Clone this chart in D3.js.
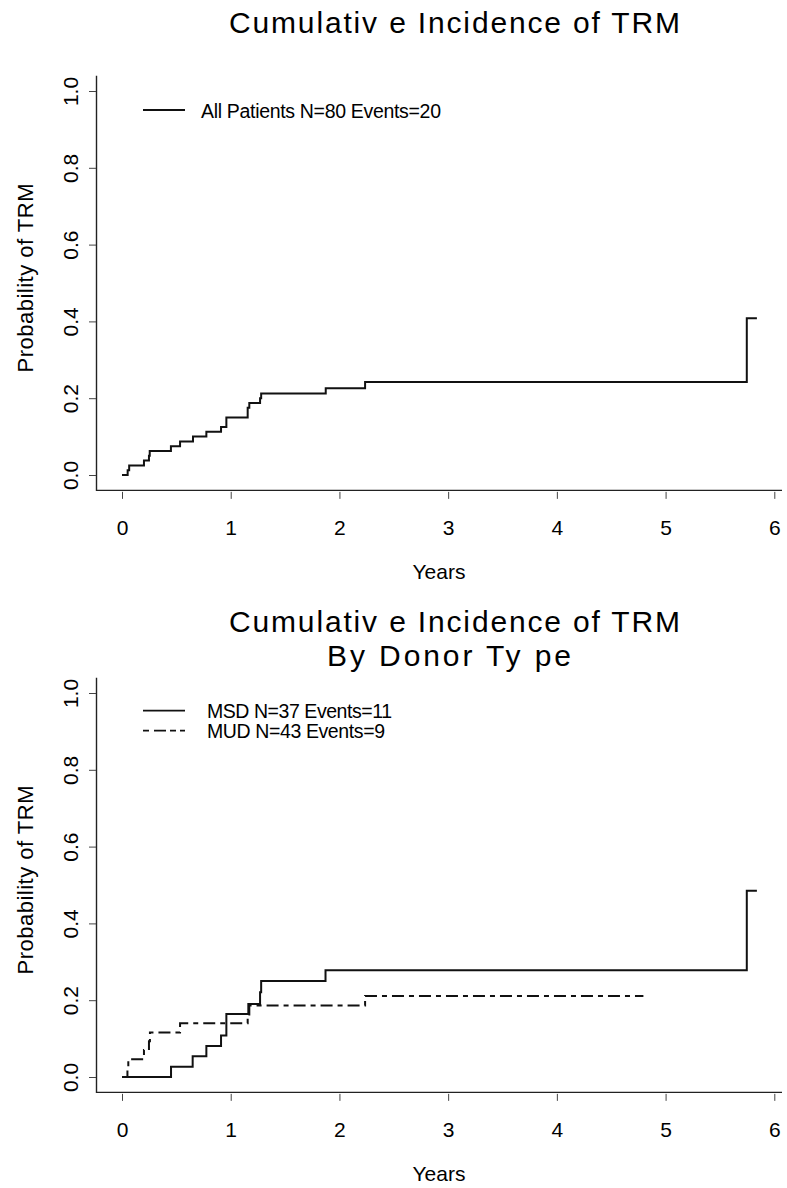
<!DOCTYPE html>
<html><head><meta charset="utf-8">
<script src="https://cdn.jsdelivr.net/npm/d3@7"></script>
<style>
body{margin:0;background:#fff;}
svg{display:block;font-family:"Liberation Sans",Arial,sans-serif;}
</style></head><body>
<svg id="c" width="787" height="1188"></svg>
<script>
// ---- data ----
const xTicks = [0, 1, 2, 3, 4, 5, 6];
const yTicks = [0, 0.2, 0.4, 0.6, 0.8, 1.0];
const xLabel = "Years";
const yLabel = "Probability of TRM";
const title1 = ["Cumulativ e Incidence of TRM"];
const title2 = ["Cumulativ e Incidence of TRM", "By Donor Ty pe"];

const allTimes = [0, 0.052, 0.066, 0.202, 0.248, 0.255, 0.45, 0.534, 0.653, 0.776, 0.911, 0.96, 1.156, 1.171, 1.27, 1.28, 1.874, 2.236, 5.747, 5.84];
const allCI    = [0, 0.0125, 0.025, 0.0375, 0.05, 0.0625, 0.075, 0.0875, 0.1, 0.1125, 0.125, 0.15, 0.175, 0.1875, 0.2, 0.2125, 0.226, 0.242, 0.408, 0.408];

const msdTimes = [0, 0.451, 0.65, 0.776, 0.911, 0.96, 1.162, 1.27, 1.28, 1.872, 5.747, 5.84];
const msdCI    = [0, 0.027, 0.054, 0.081, 0.108, 0.164, 0.19, 0.221, 0.25, 0.278, 0.485, 0.485];

const mudTimes = [0, 0.05, 0.058, 0.202, 0.248, 0.257, 0.534, 1.156, 1.171, 2.236, 4.796];
const mudCI    = [0, 0.023, 0.0465, 0.07, 0.093, 0.116, 0.14, 0.163, 0.186, 0.211, 0.211];

const legend1 = ["All Patients N=80 Events=20"];
const legend2 = ["MSD N=37 Events=11", "MUD N=43 Events=9"];

// ---- drawing ----
const svg = d3.select("#c");
const x = d3.scaleLinear().domain([0, 6]).range([122, 774.3]);

function drawPanel(o) {
  const g = svg.append("g");
  const y = d3.scaleLinear().domain([0, 1]).range([o.y0, o.y0 - 384]);
  const frameTop = y(1.04), frameBot = y(-0.04);
  // frame (L shape)
  g.append("path")
    .attr("d", `M96.5,${frameTop}V${frameBot}H782`)
    .attr("fill", "none").attr("stroke", "#222").attr("stroke-width", 1.4);

  // x axis ticks
  const xa = g.append("g").attr("transform", `translate(0,${frameBot + 1.5})`)
    .call(d3.axisBottom(x).tickValues(xTicks).tickSize(7).tickFormat(d3.format("d")));
  xa.select(".domain").remove();
  xa.selectAll("line").attr("stroke", "#444").attr("stroke-width", 1);
  xa.selectAll("text").attr("dy", null).attr("y", 43).attr("fill", "#000")
    .style("font-size", "21px").style("font-family", "Liberation Sans, Arial, sans-serif");

  // y axis ticks
  const ya = g.append("g").attr("transform", `translate(96,0)`)
    .call(d3.axisLeft(y).tickValues(yTicks).tickSize(7).tickFormat(d3.format(".1f")));
  ya.select(".domain").remove();
  ya.selectAll("line").attr("stroke", "#444").attr("stroke-width", 1);
  ya.selectAll("text").attr("x", null).attr("dy", null)
    .attr("text-anchor", "middle").attr("transform", "translate(-18.5,0) rotate(-90)")
    .attr("fill", "#000")
    .style("font-size", "21px").style("font-family", "Liberation Sans, Arial, sans-serif");

  // axis labels
  g.append("text").attr("x", 439).attr("y", frameBot + 89).attr("text-anchor", "middle")
    .style("font-size", "21px").text(xLabel);
  g.append("text").attr("transform", `translate(33,${(frameTop + frameBot) / 2 - 5}) rotate(-90)`)
    .attr("text-anchor", "middle").style("font-size", "22px")
    .attr("textLength", 189).attr("lengthAdjust", "spacing").text(yLabel);

  // title
  o.title.forEach((t, i) => {
    const tt = g.append("text").attr("y", o.titleY[i]).style("font-size", "30px").text(t);
    tt.attr("x", o.titleX[i]).attr("textLength", o.titleW[i]).attr("lengthAdjust", "spacing");
  });

  // curves
  const line = d3.line().x(d => x(d[0])).y(d => y(d[1])).curve(d3.curveStepAfter);
  o.series.forEach(s => {
    const pts = s.t.map((t, i) => [t, s.v[i]]);
    g.append("path").attr("d", line(pts)).attr("fill", "none")
      .attr("stroke", "#111").attr("stroke-width", 2)
      .attr("stroke-dasharray", s.dash || null);
  });

  // legend
  o.legend.forEach((lab, i) => {
    const ly = o.legY + i * 20;
    g.append("line").attr("x1", 143).attr("x2", 185).attr("y1", ly).attr("y2", ly)
      .attr("stroke", "#111").attr("stroke-width", 1.8)
      .attr("stroke-dasharray", o.series[i].dash ? "6,5,12,4,6,4" : null);
    g.append("text").attr("x", o.legX).attr("y", ly + 7.5).style("font-size", "19.5px")
      .attr("textLength", o.legW[i]).attr("lengthAdjust", "spacing").text(lab);
  });
}

drawPanel({
  y0: 475,
  title: title1, titleY: [33], titleX: [229], titleW: [451],
  series: [{ t: allTimes, v: allCI }],
  legend: legend1, legY: 110, legX: 201, legW: [240]
});

drawPanel({
  y0: 1077,
  title: title2, titleY: [632, 666], titleX: [229, 327], titleW: [451, 244],
  series: [{ t: msdTimes, v: msdCI }, { t: mudTimes, v: mudCI, dash: "12,5,5,5" }],
  legend: legend2, legY: 710.7, legX: 207, legW: [185, 178]
});
</script>
</body></html>
